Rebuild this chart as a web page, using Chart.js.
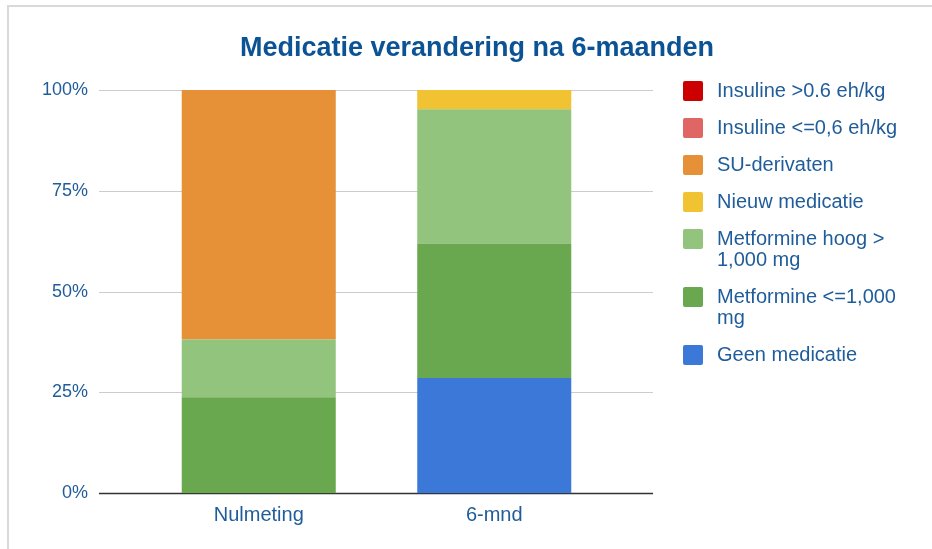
<!DOCTYPE html>
<html>
<head>
<meta charset="utf-8">
<script src="https://cdn.jsdelivr.net/npm/chart.js"></script>
<style>
  body { margin: 0; background: #fff; font-family: "Liberation Sans", Arial, sans-serif; }
  #wrap { position: relative; width: 932px; height: 549px; overflow: hidden; }
  #frame { position: absolute; left: 7px; top: 5px; width: 1000px; height: 1000px;
           border-left: 2px solid #d9d9d9; border-top: 2px solid #d9d9d9; }
  #title { position: absolute; left: 22px; right: 0; top: 34px; text-align: center;
           font-weight: bold; font-size: 27px; line-height: 27px; color: #0b5394; }
  #legend { position: absolute; left: 683px; top: 80px; display: flex; flex-direction: column; gap: 16px; }
  .item { display: flex; align-items: flex-start; }
  .box { width: 20px; height: 20px; border-radius: 2px; margin-top: 0.5px; margin-right: 14px; flex: none; }
  .txt { font-size: 20px; line-height: 21px; color: #1f5c9a; max-width: 195px; }
  canvas { position: absolute; left: 0; top: 0; }
</style>
</head>
<body>
<div id="wrap">
  <div id="frame"></div>
  <!-- canvas a bit taller than the page; the bottom strip is clipped by #wrap -->
  <canvas id="medChart" width="932" height="557"></canvas>
  <div id="title">Medicatie verandering na 6-maanden</div>
  <div id="legend"></div>
</div>

<script>
  // categories on the x axis
  const categories = ['Nulmeting', '6-mnd'];

  // percentages per category
  const geenMedicatie   = [0, 28.6];
  const metformineLaag  = [23.8, 33.3];
  const metformineHoog  = [14.3, 33.3];
  const nieuwMedicatie  = [0, 4.8];
  const suDerivaten     = [61.9, 0];
  const insulineLaag    = [0, 0];
  const insulineHoog    = [0, 0];

  // y axis ticks
  const yTicks = [0, 25, 50, 75, 100];

  const textColor = '#1f5c9a';

  // stacked from bottom to top
  const series = [
    { label: 'Geen medicatie',             data: geenMedicatie,  color: '#3c78d8' },
    { label: 'Metformine <=1,000 mg',      data: metformineLaag, color: '#6aa84f' },
    { label: 'Metformine hoog > 1,000 mg', data: metformineHoog, color: '#93c47d' },
    { label: 'Nieuw medicatie',            data: nieuwMedicatie, color: '#f1c232' },
    { label: 'SU-derivaten',               data: suDerivaten,    color: '#e69138' },
    { label: 'Insuline <=0,6 eh/kg',       data: insulineLaag,   color: '#e06666' },
    { label: 'Insuline >0.6 eh/kg',        data: insulineHoog,   color: '#cc0000' }
  ];

  // legend (top to bottom is reverse of stacking order)
  const legendEl = document.getElementById('legend');
  series.slice().reverse().forEach(s => {
    const item = document.createElement('div');
    item.className = 'item';
    item.innerHTML = '<div class="box" style="background:' + s.color + '"></div><div class="txt"></div>';
    item.querySelector('.txt').textContent = s.label;
    legendEl.appendChild(item);
  });

  // horizontal gridlines, a bit wider than the bar area (like the original)
  const wideGrid = {
    id: 'wideGrid',
    beforeDatasetsDraw(chart) {
      const ctx = chart.ctx;
      const y = chart.scales.y;
      const left = chart.chartArea.left - 42;
      const right = chart.chartArea.right + 41;
      ctx.save();
      yTicks.forEach(v => {
        const py = Math.round(y.getPixelForValue(v)) + 0.5;
        ctx.beginPath();
        ctx.strokeStyle = v === 0 ? '#333333' : '#cccccc';
        ctx.lineWidth = v === 0 ? 1.5 : 1;
        ctx.moveTo(left, py);
        ctx.lineTo(right, py);
        ctx.stroke();
      });
      ctx.restore();
    }
  };

  new Chart(document.getElementById('medChart'), {
    type: 'bar',
    data: {
      labels: categories,
      datasets: series.map(s => ({
        label: s.label,
        data: s.data,
        backgroundColor: s.color,
        borderWidth: 0,
        barPercentage: 1,
        categoryPercentage: 0.654
      }))
    },
    options: {
      responsive: false,
      animation: false,
      devicePixelRatio: 1,
      layout: { padding: { left: 42, right: 320, top: 90, bottom: 0 } },
      plugins: {
        legend: { display: false },
        title: { display: false },
        tooltip: { enabled: false }
      },
      scales: {
        x: {
          stacked: true,
          grid: { display: false, drawTicks: false, tickLength: 0 },
          border: { display: false },
          afterFit: axis => { axis.height = 48; },
          ticks: {
            padding: 10,
            color: textColor,
            font: { family: 'Liberation Sans', size: 20 }
          }
        },
        y: {
          stacked: true,
          min: 0,
          max: 100,
          grid: { display: false, drawTicks: false, tickLength: 0 },
          border: { display: false },
          afterBuildTicks: axis => { axis.ticks = yTicks.map(v => ({ value: v })); },
          afterFit: axis => { axis.width = 99; },
          ticks: {
            padding: 53,
            color: textColor,
            font: { family: 'Liberation Sans', size: 18 },
            callback: v => v + '%'
          }
        }
      }
    },
    plugins: [wideGrid]
  });
</script>
</body>
</html>
